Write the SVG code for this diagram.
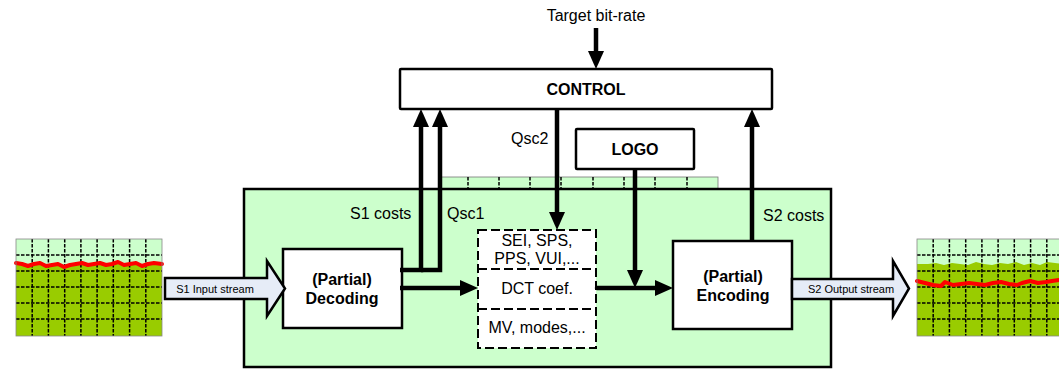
<svg xmlns="http://www.w3.org/2000/svg" width="1059" height="369" viewBox="0 0 1059 369">
<style>
.t{font-family:"Liberation Sans",Arial,sans-serif;font-size:16px;fill:#000}
.b{font-weight:bold}
.s{font-size:11px}
.box{fill:#fff;stroke:#000;stroke-width:2.5}
.dash{fill:none;stroke:#000;stroke-width:2;stroke-dasharray:9 4}
.grid{stroke:#000;stroke-width:1.5;stroke-dasharray:3.5 1.5;fill:none}
.conn{fill:none;stroke:#000;stroke-width:4.5}
.stream{fill:#E6ECF7;stroke:#000;stroke-width:2.5;stroke-linejoin:miter}
.red{fill:none;stroke:#FF0000;stroke-width:4;stroke-linejoin:round;stroke-linecap:round}
</style>
<defs>
<marker id="ah" markerUnits="userSpaceOnUse" markerWidth="18" markerHeight="16" refX="6" refY="8" orient="auto">
<path d="M0,0 L18,8 L0,16 z" fill="#000"/>
</marker>
</defs>

<g id="input-image">
<rect x="16" y="239" width="146" height="97" fill="#99CC00"/>
<path d="M16,239 H162 V264 L154,263 148,265 142,266 136,263 130,264 124,265 118,262 112,264 106,265 100,263 94,264 88,265 82,263 76,264 70,265 64,267 58,264 52,265 46,266 40,263 34,264 28,266 22,264 16,263 Z" fill="#CCFFCC"/>
<g class="grid">
<path d="M32.2,239V336M48.4,239V336M64.7,239V336M80.9,239V336M97.1,239V336M113.3,239V336M129.6,239V336M145.8,239V336"/>
<path d="M16,255H162M16,271H162M16,287H162M16,303H162M16,319H162"/>
</g>
<polyline class="red" points="16,263 22,264 28,266 34,264 40,263 46,266 52,265 58,264 64,267 70,265 76,264 82,263 88,265 94,264 100,263 106,265 112,264 118,262 124,265 130,264 136,263 142,266 148,264 154,263 162,264"/>
<rect x="16" y="239" width="146" height="97" fill="none" stroke="#888" stroke-width="0.8"/>
</g>

<g id="output-image">
<rect x="917" y="239" width="146" height="97" fill="#99CC00"/>
<path d="M917,239 H1063 V264 L1055,263 1047,262 1040,265 1032,263 1024,265 1016,262 1008,264 1000,263 992,265 984,264 976,262 968,265 960,264 952,263 944,265 936,263 928,264 917,264 Z" fill="#CCFFCC"/>
<g class="grid">
<path d="M933.2,239V336M949.4,239V336M965.7,239V336M981.9,239V336M998.1,239V336M1014.3,239V336M1030.6,239V336M1046.8,239V336"/>
<path d="M917,255H1063M917,271H1063M917,287H1063M917,303H1063M917,319H1063"/>
</g>
<polyline class="red" points="917,281 925,283 933,285 941,286 945,282 953,285 961,284 969,283 977,284 985,285 993,283 1001,282 1009,284 1017,285 1022,283 1030,281 1038,283 1046,282 1052,281 1059,280"/>
<rect x="917" y="239" width="146" height="97" fill="none" stroke="#888" stroke-width="0.8"/>
</g>

<g id="logo-strip">
<rect x="441" y="177" width="277" height="12" fill="#CCFFCC" stroke="#777" stroke-width="0.8"/>
<path class="grid" d="M468,177V189M499,177V189M530,177V189M561,177V189M593,177V189M624,177V189M655,177V189M687,177V189"/>
</g>

<g id="node-transcoder">
<rect x="244" y="189" width="587" height="178" fill="#CCFFCC" stroke="#000" stroke-width="2.5"/>
</g>

<g id="node-control">
<rect class="box" x="400" y="69" width="372" height="40" rx="1"/>
<text class="t b" x="586" y="94.5" text-anchor="middle">CONTROL</text>
</g>
<text class="t" x="596" y="21" text-anchor="middle">Target bit-rate</text>

<g id="node-logo">
<rect class="box" x="576" y="129" width="118" height="40" rx="1"/>
<text class="t b" x="635" y="155" text-anchor="middle">LOGO</text>
</g>

<g id="node-decoding">
<rect class="box" x="283" y="249" width="119" height="79"/>
<text class="t b" x="342" y="285" text-anchor="middle">(Partial)</text>
<text class="t b" x="342" y="304" text-anchor="middle">Decoding</text>
</g>

<g id="node-syntax">
<rect x="478" y="230" width="118" height="118" fill="#fff"/>
<rect class="dash" x="478" y="230" width="118" height="118"/>
<path class="dash" d="M478,269H596M478,309H596"/>
<text class="t" x="537" y="246" text-anchor="middle">SEI, SPS,</text>
<text class="t" x="537" y="264" text-anchor="middle">PPS, VUI,...</text>
<text class="t" x="537" y="294" text-anchor="middle">DCT coef.</text>
<text class="t" x="537" y="333" text-anchor="middle">MV, modes,...</text>
</g>

<g id="node-encoding">
<rect class="box" x="673" y="241" width="119" height="88"/>
<text class="t b" x="733" y="282" text-anchor="middle">(Partial)</text>
<text class="t b" x="733" y="301" text-anchor="middle">Encoding</text>
</g>

<g id="connectors">
<path class="conn" d="M596,28V57" marker-end="url(#ah)"/>
<path class="conn" d="M400,270H421V121" marker-end="url(#ah)"/>
<path class="conn" d="M421,270H440V121" marker-end="url(#ah)"/>
<path class="conn" d="M557,109V218" marker-end="url(#ah)"/>
<path class="conn" d="M635,169V276" marker-end="url(#ah)"/>
<path class="conn" d="M400,288H466" marker-end="url(#ah)"/>
<path class="conn" d="M597,288H661" stroke-linecap="round" marker-end="url(#ah)"/>
<path class="conn" d="M752,241V121" marker-end="url(#ah)"/>
</g>

<g id="labels">
<text class="t" x="350" y="219">S1 costs</text>
<text class="t" x="447" y="219">Qsc1</text>
<text class="t" x="511" y="144">Qsc2</text>
<text class="t" x="763" y="221">S2 costs</text>
</g>

<g id="input-stream">
<polygon class="stream" points="165,278 267,278 267,261 285,288.5 267,316 267,299 165,299"/>
<text class="t s" x="215" y="292.5" text-anchor="middle">S1 Input stream</text>
</g>

<g id="output-stream">
<polygon class="stream" points="792,279 893,279 893,261 909,288.5 893,316 893,299 792,299"/>
<text class="t s" x="851" y="292.5" text-anchor="middle">S2 Output stream</text>
</g>
</svg>
